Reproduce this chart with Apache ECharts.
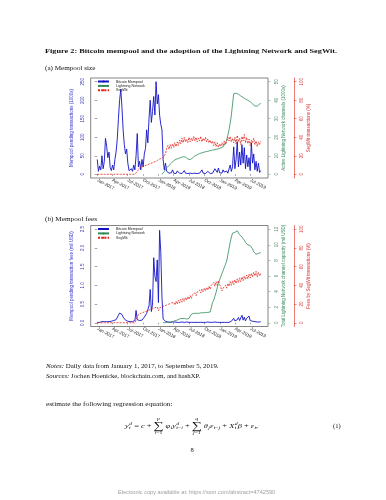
<!DOCTYPE html>
<html>
<head>
<meta charset="utf-8">
<script src="https://cdn.jsdelivr.net/npm/echarts@6/dist/echarts.min.js"></script>
<style>
  body { margin: 0; background: #fff; }
  #page { position: relative; width: 386px; height: 500px; overflow: hidden; background: #fff;
          font-family: "Liberation Serif", "DejaVu Serif", serif; color: #111; }
  #chart { position: absolute; left: 0; top: 0; width: 386px; height: 500px; }
  .t { position: absolute; white-space: nowrap; line-height: 1; transform-origin: 0 50%; }
  .eq { display: flex; align-items: center; font-size: 6.5px; }
  .ss { display: inline-flex; flex-direction: column; font-size: 0.7em; line-height: 0.95; margin-left: 0.3px; vertical-align: middle; }
  .sum { display: inline-flex; flex-direction: column; align-items: center; margin: 0 1.5px; line-height: 0.9; }
  .sum .lim { font-size: 4.5px; }
  .sum .sig { font-size: 11px; line-height: 0.9; }
</style>
</head>
<body>
<div id="page">
  <div id="chart"></div>
  <div class="t" data-cy="51.7" data-w="292" style="left:45px;font-size:7px;font-weight:bold">Figure 2: Bitcoin mempool and the adoption of the Lightning Network and SegWit.</div>
  <div class="t" data-cy="68.3" data-w="50" style="left:45px;font-size:6px">(a) Mempool size</div>
  <div class="t" data-cy="219" data-w="52" style="left:45px;font-size:6px">(b) Mempool fees</div>
  <div class="t" data-cy="365.7" data-w="173" style="left:46px;font-size:6px"><i>Notes:</i> Daily data from January 1, 2017, to September 5, 2019.</div>
  <div class="t" data-cy="376" data-w="154" style="left:46px;font-size:6px"><i>Sources:</i> Jochen Hoenicke, blockchain.com, and hashXP.</div>
  <div class="t" data-cy="404.3" data-w="127" style="left:46px;font-size:6px">estimate the following regression equation:</div>
  <div class="t eq" data-cy="426" data-w="133" style="left:125px">
    <i>y</i><span class="ss"><i>d</i><i>t</i></span>&nbsp;=&nbsp;<i>c</i>&nbsp;+
    <span class="sum"><i class="lim">p</i><span class="sig">&sum;</span><span class="lim"><i>i</i>=1</span></span>
    <i>&phi;</i><span class="ss"><span>&nbsp;</span><i>i</i></span><i>y</i><span class="ss"><i>d</i><span><i>t</i>&minus;<i>i</i></span></span>&nbsp;+
    <span class="sum"><i class="lim">q</i><span class="sig">&sum;</span><span class="lim"><i>j</i>=1</span></span>
    <i>&theta;</i><span class="ss"><span>&nbsp;</span><i>j</i></span><i>&epsilon;</i><span class="ss"><span>&nbsp;</span><span><i>t</i>&minus;<i>j</i></span></span>&nbsp;+&nbsp;<i>X</i><span class="ss"><i>d</i><i>t</i></span><i>&beta;</i>&nbsp;+&nbsp;<i>&epsilon;</i><span class="ss"><span>&nbsp;</span><i>t</i></span>,
  </div>
  <div class="t" data-cy="426" style="left:333px;font-size:6.5px">(1)</div>
  <div class="t" data-cy="450.7" style="left:190.5px;font-size:6.5px">8</div>
  <div class="t" data-cy="492" data-w="157" style="left:118px;font-size:5px;color:#a0a0a0;font-family:'Liberation Sans',sans-serif">Electronic copy available at: https://ssrn.com/abstract=4742590</div>
</div>
<script>
  // weekly samples, week 0 = 1 Jan 2017
  var weekStep = 7;
  var dayMin = -39, dayMax = 1016;
  var tickDays = [0, 90, 181, 273, 365, 455, 546, 638, 730, 820, 911];
  var tickLabels = ['Jan-2017', 'Apr-2017', 'Jul-2017', 'Oct-2017', 'Jan-2018', 'Apr-2018',
                    'Jul-2018', 'Oct-2018', 'Jan-2019', 'Apr-2019', 'Jul-2019'];
  var legendNames = ['Bitcoin Mempool', 'Lightning Network', 'SegWit'];

  // panel (a)
  var mempoolSize = [
    40, 8, 22, 12, 50, 15, 35, 97, 75, 45,
    60, 18, 10, 25, 12, 40, 60, 95, 150, 200,
    230, 180, 120, 80, 55, 68, 30, 10, 6, 15,
    8, 25, 12, 50, 110, 20, 35, 12, 40, 20,
    55, 70, 120, 85, 150, 200, 140, 170, 210, 160,
    250, 190, 215, 160, 135, 120, 40, 12, 30, 8,
    5, 3, 8, 4, 12, 3, 6, 2, 9, 4,
    3, 7, 2, 5, 10, 3, 4, 2, 6, 3,
    8, 2, 4, 3, 5, 2, 7, 3, 4, 12,
    3, 5, 2, 4, 8, 3, 2, 6, 3, 4,
    15, 10, 5, 17, 4, 8, 3, 12, 6, 4,
    9, 3, 5, 25, 8, 20, 74, 15, 40, 88,
    20, 60, 25, 80, 30, 72, 15, 52, 20, 45,
    10, 85, 30, 55, 12, 35, 8, 30, 5, 10
  ];
  var lnChannelsStart = 55;
  var lnChannels = [
    0, 0.5, 1.5, 2.5, 3.5,
    4.2, 4.8, 5.3, 6, 6.8, 7.4, 7.8, 8.1, 8.4, 8.6,
    8.8, 9, 9.3, 9.5, 9.6, 9.3, 8.8, 8.3, 8, 7.9,
    8.2, 8.8, 9.4, 9.9, 10.3, 10.6, 10.9, 11.2, 11.4, 11.6,
    11.8, 12, 12.1, 12.3, 12.4, 12.6, 12.7, 12.9, 13, 13.2,
    13.3, 13.5, 13.6, 13.8, 14, 14.2, 14.5, 14.9, 15.8, 17,
    18.5, 21, 24, 27.5, 32, 38, 43.5, 44, 43.8, 43.5,
    43.2, 42.8, 42.3, 41.9, 41.5, 41, 40.7, 40.4, 40, 39.6,
    39.2, 38.7, 38, 37.3, 36.9, 36.6, 36.8, 37.3, 37.9, 38.3
  ];
  var segwitTx = [
    0, 0, 0, 0, 0, 0, 0, 0, 0, 0,
    0, 0, 0, 0, 0, 0, 0, 0, 0, 0,
    0, 0, 0, 0, 0, 0, 0, 0, 0, 0,
    0, 0, 0, 1, 3, 5, 7, 5, 8, 6,
    9, 7, 10, 8, 11, 9, 12, 10, 13, 11,
    14, 12, 16, 14, 17, 15, 18, 16, 22, 28,
    31, 27, 32, 28, 33, 29, 34, 30, 35, 31,
    37, 33, 39, 34, 40, 35, 38, 34, 40, 35,
    39, 36, 41, 36, 40, 35, 39, 36, 41, 35,
    39, 36, 40, 35, 38, 34, 37, 33, 36, 31,
    35, 30, 34, 29, 33, 30, 34, 31, 36, 32,
    35, 40, 36, 41, 35, 39, 34, 40, 33, 42,
    35, 39, 32, 41, 36, 43, 34, 40, 33, 38,
    31, 37, 34, 39, 32, 36, 30, 35, 32, 36
  ];
  var sizeTicks = [0, 50, 100, 150, 200, 250];
  var channelTicks = [0, 10, 20, 30, 40, 50];

  // panel (b)
  var mempoolFees = [
    0.01, 0.02, 0.01, 0.02, 0.03, 0.02, 0.03, 0.04, 0.03, 0.04,
    0.03, 0.05, 0.04, 0.05, 0.06, 0.05, 0.08, 0.12, 0.2, 0.26,
    0.28, 0.22, 0.15, 0.1, 0.07, 0.06, 0.04, 0.03, 0.03, 0.04,
    0.03, 0.05, 0.06, 0.33, 0.08, 0.05, 0.06, 0.04, 0.07, 0.1,
    0.15, 0.2, 0.25, 0.3, 0.45, 0.89, 0.3, 0.5, 1.74, 1.24,
    1.1, 1.68, 0.54, 2.47, 1.9, 0.68, 0.1, 0.06, 0.04, 0.03,
    0.02, 0.02, 0.01, 0.02, 0.02, 0.01, 0.02, 0.01, 0.01, 0.02,
    0.01, 0.01, 0.02, 0.01, 0.01, 0.01, 0.02, 0.01, 0.01, 0.01,
    0.01, 0.02, 0.01, 0.01, 0.01, 0.01, 0.01, 0.02, 0.01, 0.01,
    0.01, 0.01, 0.01, 0.01, 0.02, 0.01, 0.01, 0.01, 0.01, 0.01,
    0.02, 0.01, 0.01, 0.02, 0.01, 0.01, 0.01, 0.02, 0.01, 0.01,
    0.01, 0.02, 0.01, 0.02, 0.04, 0.06, 0.12, 0.05, 0.1, 0.08,
    0.14, 0.06, 0.11, 0.2, 0.07, 0.15, 0.05, 0.12, 0.09, 0.18,
    0.06, 0.1, 0.04, 0.08, 0.03, 0.06, 0.02, 0.04, 0.02, 0.03
  ];
  var lnCapacityStart = 56;
  var lnCapacity = [
    0, 0.01, 0.02, 0.04,
    0.06, 0.08, 0.1, 0.13, 0.16, 0.2, 0.25, 0.3, 0.35, 0.42,
    0.5, 0.52, 0.55, 0.54, 0.56, 0.5, 0.48, 0.52, 0.55, 0.6,
    1.1, 1.15, 1.2, 1.18, 1.22, 1.25, 1.2, 1.25, 1.28, 1.3,
    1.27, 1.3, 1.32, 1.3, 1.33, 1.35, 1.38, 1.5, 2.6, 2.9,
    3.4, 3.9, 4.5, 5.1, 5.5, 5.9, 6.3, 6.7, 7.1, 7.5,
    7.9, 8.7, 9.5, 10.3, 11.0, 11.5, 11.3, 11.6, 11.4, 11.8,
    11.9, 11.3, 11.5, 11.0, 10.8, 10.6, 10.3, 10.1, 10.0, 10.0,
    9.9, 9.7, 9.5, 9.1, 8.9, 8.8, 8.8, 8.9, 9.0, 9.0
  ];
  var segwitFees = [
    0, 0, 0, 0, 0, 0, 0, 0, 0, 0,
    0, 0, 0, 0, 0, 0, 0, 0, 0, 0,
    0, 0, 0, 0, 0, 0, 0, 0, 0, 0,
    0, 0, 0, 3, 6, 9, 7, 10, 8, 11,
    9, 12, 10, 13, 11, 14, 12, 15, 13, 16,
    14, 17, 13, 16, 14, 17, 15, 18, 16, 19,
    17, 20, 18, 21, 19, 22, 19, 23, 20, 24,
    21, 25, 22, 26, 23, 27, 24, 28, 25, 29,
    26, 30, 28, 32, 29, 33, 31, 35, 32, 36,
    33, 37, 34, 38, 35, 39, 36, 40, 38, 43,
    39, 44, 40, 45, 41, 38, 34, 37, 35, 40,
    37, 42, 39, 44, 40, 45, 41, 46, 42, 47,
    43, 48, 44, 49, 45, 50, 46, 51, 47, 52,
    48, 53, 49, 54, 50, 55, 49, 54, 50, 53
  ];
  var feeTicks = [0, 0.5, 1, 1.5, 2, 2.5];
  var capacityTicks = [0, 2, 4, 6, 8, 10, 12];
  var shareTicks = [0, 20, 40, 60, 80, 100];

  var blue = '#1212c8', green = '#2e8b57', red = '#e2231a';
  var sans = '"Liberation Sans", Arial, sans-serif';
  var fs = 4.5;

  function weekly(values, startWeek) {
    return values.map(function (v, k) { return [(startWeek + k) * weekStep, v]; });
  }

  // one R-style panel: box, left axis, two right axes, three lines
  function panel(gi, cfg) {
    var grid = { left: 90.7, top: cfg.top, width: 177.3, height: cfg.height, show: true,
                 borderColor: '#333', borderWidth: 0.6, backgroundColor: 'transparent' };
    var xAxis = {
      type: 'value', gridIndex: gi, min: dayMin, max: dayMax,
      axisLine: { show: false }, splitLine: { show: false },
      axisTick: { show: true, length: 1.5, customValues: tickDays, lineStyle: { color: '#333', width: 0.5 } },
      axisLabel: { customValues: tickDays, rotate: -28, margin: 2, fontSize: fs, fontFamily: sans, color: '#222',
                   formatter: function (v) { return tickLabels[tickDays.indexOf(v)]; } }
    };
    var yAxes = [
      {
        type: 'value', gridIndex: gi, position: 'left', min: cfg.left.range[0], max: cfg.left.range[1],
        axisLine: { show: false }, splitLine: { show: false },
        axisTick: { show: true, length: 2.5, customValues: cfg.left.ticks, lineStyle: { color: '#444', width: 0.5 } },
        axisLabel: { customValues: cfg.left.ticks, rotate: 90, margin: 5, fontSize: fs, fontFamily: sans, color: '#3a3ab0',
                     formatter: cfg.left.fmt },
        name: cfg.left.name, nameLocation: 'middle', nameRotate: 90, nameGap: 16,
        nameTextStyle: { fontSize: fs, fontFamily: sans, color: '#3030c8' }
      },
      {
        type: 'value', gridIndex: gi, position: 'right', offset: 0, min: cfg.green.range[0], max: cfg.green.range[1],
        axisLine: { show: false }, splitLine: { show: false },
        axisTick: { show: true, length: 2.5, customValues: cfg.green.ticks, lineStyle: { color: '#6a9a80', width: 0.5 } },
        axisLabel: { customValues: cfg.green.ticks, rotate: 90, margin: 6, fontSize: fs, fontFamily: sans, color: '#5a8a70' },
        name: cfg.green.name, nameLocation: 'middle', nameRotate: 90, nameGap: 13,
        nameTextStyle: { fontSize: fs, fontFamily: sans, color: '#3f8a60' }
      },
      {
        type: 'value', gridIndex: gi, position: 'right', offset: 26, min: -4, max: 104,
        axisLine: { show: true, lineStyle: { color: red, width: 0.6 } }, splitLine: { show: false },
        axisTick: { show: true, length: 2.5, customValues: shareTicks, lineStyle: { color: red, width: 0.5 } },
        axisLabel: { customValues: shareTicks, rotate: 90, margin: 5, fontSize: fs, fontFamily: sans, color: '#d84040' },
        name: cfg.red.name, nameLocation: 'middle', nameRotate: 90, nameGap: 12,
        nameTextStyle: { fontSize: fs, fontFamily: sans, color: '#d83030' }
      }
    ];
    var y0 = gi * 3;
    var series = [
      { name: legendNames[0], type: 'line', xAxisIndex: gi, yAxisIndex: y0, data: cfg.left.data,
        showSymbol: false, symbol: 'none', lineStyle: { color: blue, width: 0.9 }, itemStyle: { color: blue } },
      { name: legendNames[1], type: 'line', xAxisIndex: gi, yAxisIndex: y0 + 1, data: cfg.green.data,
        showSymbol: false, symbol: 'none', lineStyle: { color: green, width: 0.8 }, itemStyle: { color: green } },
      { name: legendNames[2], type: 'line', xAxisIndex: gi, yAxisIndex: y0 + 2, data: cfg.red.data,
        showSymbol: false, symbol: 'none', lineStyle: { color: red, width: 0.8, type: [2, 1.2] }, itemStyle: { color: red } }
    ];
    var legend = {
      orient: 'vertical', left: 97, top: cfg.top + 1.5, padding: 0, itemWidth: 11, itemHeight: 2.5, itemGap: 0.4,
      selectedMode: false, data: legendNames,
      textStyle: { fontSize: 3.6, lineHeight: 3, fontFamily: sans, color: '#222', padding: [0, 0, 0, 2] }
    };
    return { grid: grid, xAxis: xAxis, yAxis: yAxes, series: series, legend: legend };
  }

  var pa = panel(0, {
    top: 78, height: 100,
    left: { range: [-10, 260], ticks: sizeTicks, name: 'Mempool pending transactions (1000s)',
            data: weekly(mempoolSize, 0), fmt: function (v) { return String(v); } },
    green: { range: [-2, 52], ticks: channelTicks, name: 'Active Lightning Network channels (1000s)',
             data: weekly(lnChannels, lnChannelsStart) },
    red: { name: 'SegWit transactions (%)', data: weekly(segwitTx, 0) }
  });
  var pb = panel(1, {
    top: 225.5, height: 101,
    left: { range: [-0.1, 2.6], ticks: feeTicks, name: 'Mempool pending transaction fees (mil USD)',
            data: weekly(mempoolFees, 0), fmt: function (v) { return v.toFixed(1); } },
    green: { range: [-0.48, 12.48], ticks: capacityTicks, name: 'Total Lightning Network channel capacity (mil USD)',
             data: weekly(lnCapacity, lnCapacityStart) },
    red: { name: 'Fees by SegWit transactions (%)', data: weekly(segwitFees, 0) }
  });

  var myChart = echarts.init(document.getElementById('chart'), null, { renderer: 'canvas' });
  myChart.setOption({
    animation: false,
    backgroundColor: 'transparent',
    grid: [pa.grid, pb.grid],
    xAxis: [pa.xAxis, pb.xAxis],
    yAxis: pa.yAxis.concat(pb.yAxis),
    legend: [pa.legend, pb.legend],
    series: pa.series.concat(pb.series)
  });

  // place the page text: vertical centre and width as on the scanned page
  document.querySelectorAll('.t').forEach(function (el) {
    var cy = parseFloat(el.getAttribute('data-cy'));
    el.style.top = (cy - el.offsetHeight / 2) + 'px';
    var w = parseFloat(el.getAttribute('data-w'));
    if (w) el.style.transform = 'scaleX(' + (w / el.offsetWidth) + ')';
  });
</script>
</body>
</html>
